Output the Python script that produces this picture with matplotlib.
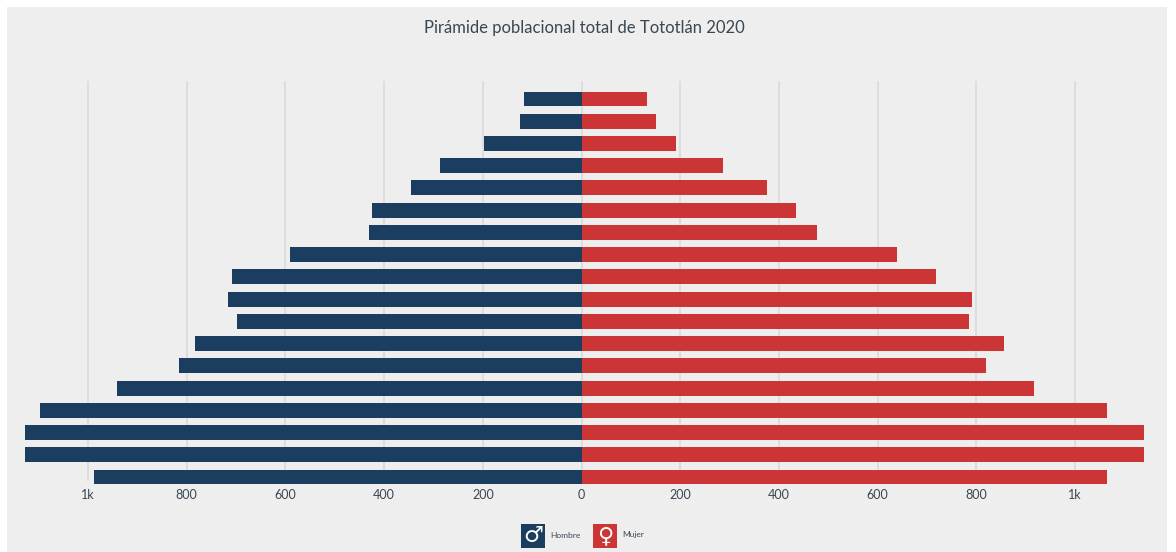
# Piramide poblacional Tototlan 2020
import matplotlib
matplotlib.use('Agg')
import matplotlib.pyplot as plt
from matplotlib.patches import Rectangle

# top bar first
hombres = [117, 125, 198, 287, 346, 425, 431, 591, 708, 717, 698, 783, 816, 941, 1098, 1128, 1128, 988]
mujeres = [133, 151, 192, 287, 376, 435, 476, 640, 719, 791, 785, 856, 820, 917, 1065, 1140, 1139, 1065]
ticks = [-1000, -800, -600, -400, -200, 0, 200, 400, 600, 800, 1000]
tick_labels = ['1k', '800', '600', '400', '200', '0', '200', '400', '600', '800', '1k']

W, H = 1176, 552
plt.rcParams['font.family'] = ['Lato', 'DejaVu Sans']
text_col = '#3a4652'
bg = '#eeeeee'
azul = '#1b3d5f'
rojo = '#cb3535'

fig = plt.figure(figsize=(W / 100, H / 100), dpi=100, facecolor='white')
# grey panel starts 7px from the top and runs off the bottom of the image
panel_h = H - 7
fig.patches.append(Rectangle((7 / W, 0), 1160 / W, panel_h / H, transform=fig.transFigure,
                             facecolor=bg, edgecolor='none', zorder=-5))

# plot area runs 81px to 481px from the top, full panel width
ax = fig.add_axes([7 / W, (H - 481) / H, 1160 / W, 400 / H])
ax.patch.set_alpha(0)
pos = list(range(len(hombres)))
ax.barh(pos, [-v for v in hombres], height=0.67, color=azul, clip_on=False, zorder=3)
ax.barh(pos, mujeres, height=0.67, color=rojo, clip_on=False, zorder=3)
ax.set_xlim(-1164, 1186)
ax.set_ylim(17.18, -0.81)
ax.set_yticks([])
ax.set_xticks(ticks)
ax.set_xticklabels(tick_labels, fontsize=9, color=text_col)
ax.tick_params(axis='x', length=0, pad=6)
ax.grid(axis='x', color='#d9d9d9', linewidth=1.1, zorder=0)
for s in ax.spines.values():
    s.set_visible(False)

fig.text(584 / W, (H - 28) / H, 'Pirámide poblacional total de Tototlán 2020', ha='center', va='center',
         fontsize=12, color=text_col)

# legend
for x0, col, sym, lab in [(521, azul, '♂', 'Hombre'), (593, rojo, '♀', 'Mujer')]:
    fig.patches.append(Rectangle((x0 / W, (H - 548) / H), 24 / W, 24 / H, transform=fig.transFigure,
                                 facecolor=col, edgecolor='none'))
    fig.text((x0 + 12) / W, (H - 536) / H, sym, ha='center', va='center', fontsize=16, color='white',
             family='DejaVu Sans', fontweight='bold')
    fig.text((x0 + 29) / W, (H - 535) / H, lab, ha='left', va='center', fontsize=6, color=text_col)

fig.savefig('out.png', dpi=100)
